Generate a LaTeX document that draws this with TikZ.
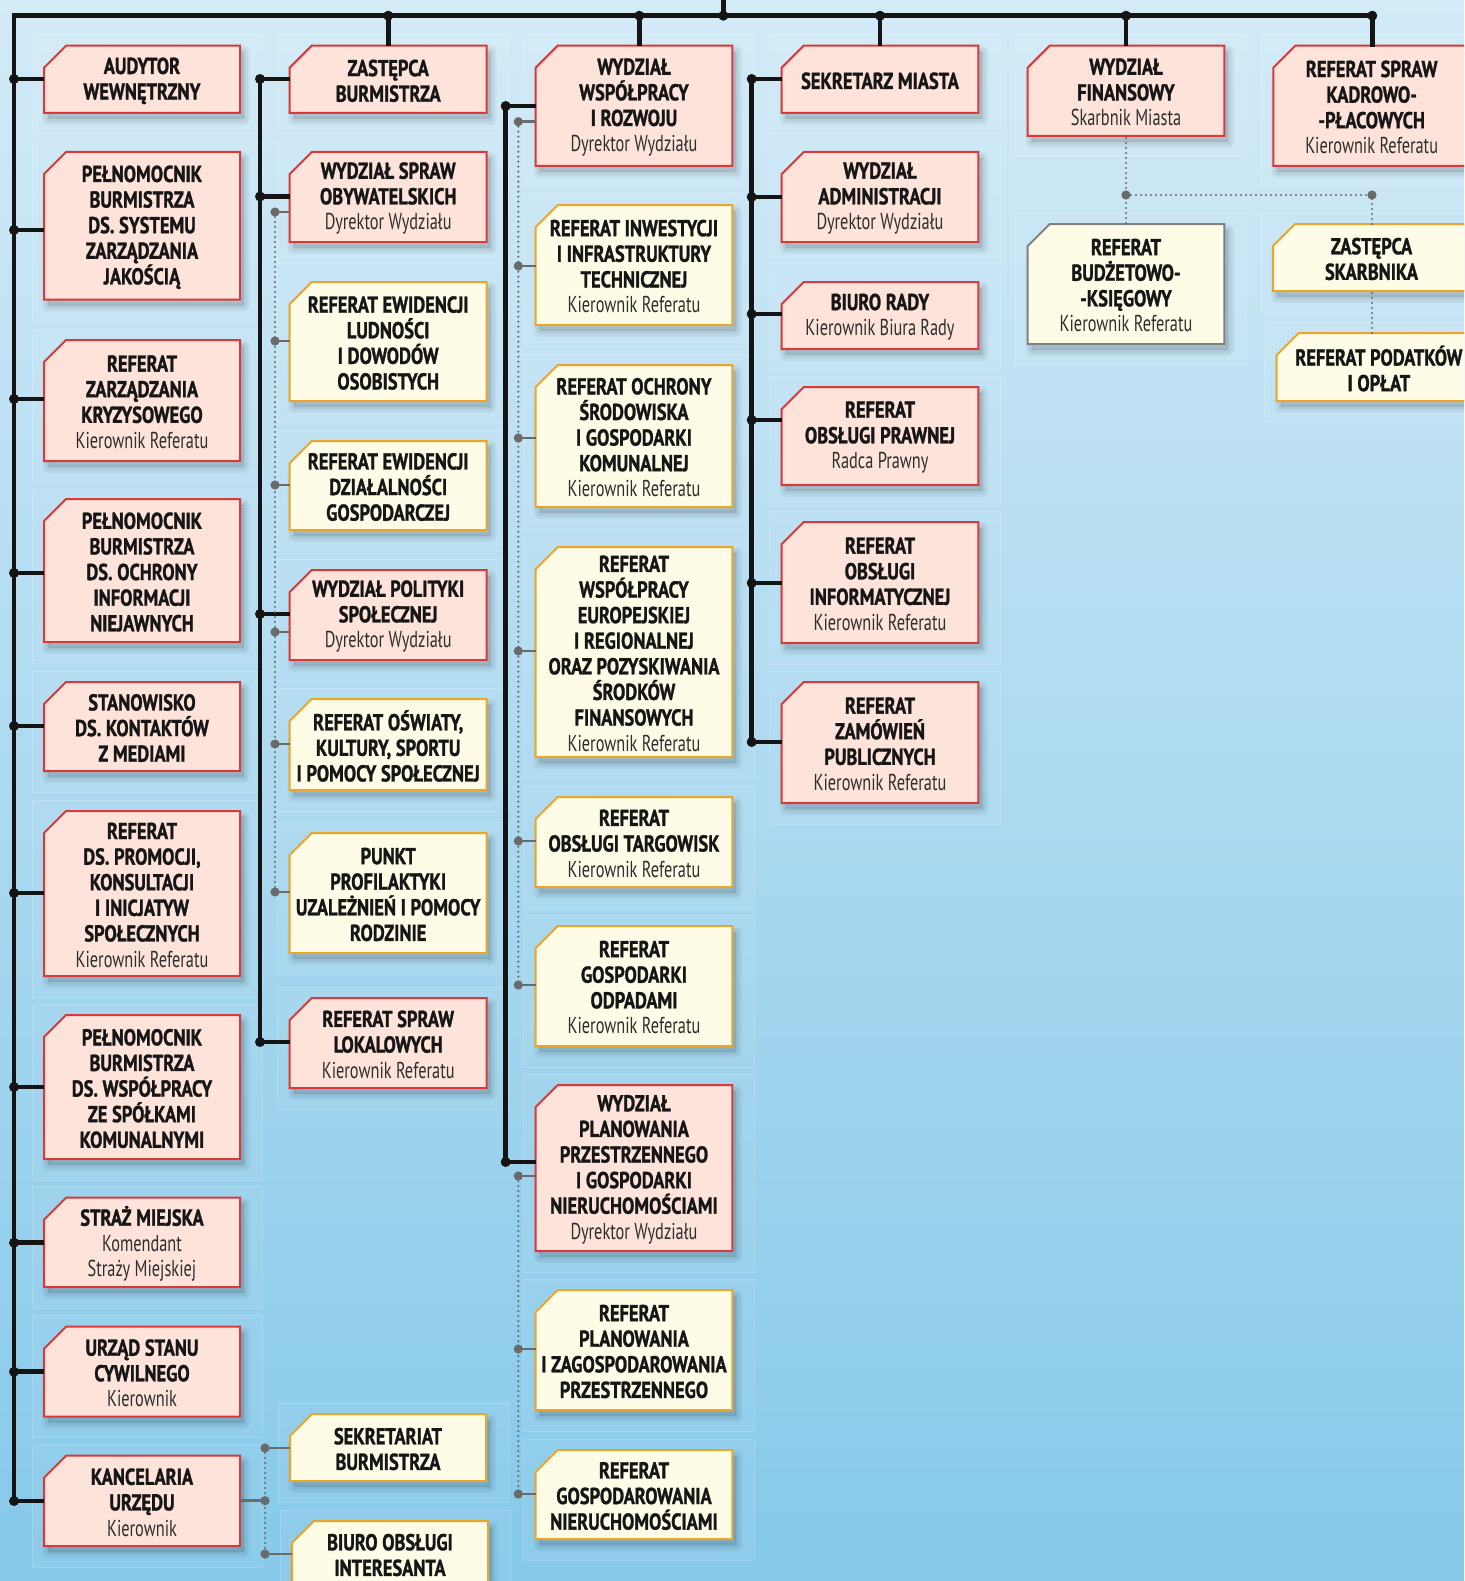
\documentclass[tikz,border=0pt]{standalone}
\usepackage{fontspec}
\setmainfont{PT Sans}[UprightFeatures={FakeStretch=0.71}, BoldFeatures={FakeStretch=0.8, FakeBold=1.2}]
\definecolor{bgtop}{HTML}{D3EAF7}
\definecolor{bgbot}{HTML}{86C9E9}
\definecolor{pinkf}{HTML}{FDE3D9}
\definecolor{redb}{HTML}{D8393A}
\definecolor{yelf}{HTML}{FEFCE7}
\definecolor{orab}{HTML}{EBA52A}
\definecolor{grayb}{HTML}{808080}
\definecolor{linec}{HTML}{141414}
\definecolor{dotc}{HTML}{6A6A6A}
\definecolor{txtc}{HTML}{161616}
\definecolor{subc}{HTML}{2E2E2E}
\tikzset{
 pinkbox/.style={fill=pinkf, draw=redb, line width=2pt},
 yelbox/.style={fill=yelf, draw=orab, line width=2pt},
 graybox/.style={fill=yelf, draw=grayb, line width=2pt},
 txt/.style={inner sep=0pt, align=center, font=\fontsize{23}{25.6}\selectfont\bfseries, text=txtc},
 mainl/.style={draw=linec, line width=4.6pt},
 subl/.style={draw=dotc, line width=2.6pt},
 dotl/.style={draw=dotc, line width=2.4pt, dash pattern=on 0pt off 5pt, line cap=round},
 panel/.style={fill=white, fill opacity=0.05, draw=white, draw opacity=0.18, line width=1pt},
}
\newcommand\sub[1]{{\mdseries\color{subc}#1}}
% #1 name, #2 style, #3 x1, #4 y1, #5 x2, #6 y2, #7 text
\newcommand\ob[7]{%
  \path[panel] (#3-12,#4-11) rectangle (#5+22,#6+21);
  \foreach \w in {12,8,4}{%
    \path[fill=black, fill opacity=0.035, draw=black, draw opacity=0.035, line width=\w pt, line join=round]
      (#3+4,#6+6) -- (#3+4,#4+28) -- (#3+26,#4+6) -- (#5+4,#4+6) -- (#5+4,#6+6) -- cycle;}
  \path[#2] (#3,#6) -- (#3,#4+22) -- (#3+22,#4) -- (#5,#4) -- (#5,#6) -- cycle;
  \node[txt, minimum width={(#5-#3)*1pt}, minimum height={(#6-#4)*1pt}] (#1) at ({(#3+#5)/2},{(#4+#6)/2+1.5}) {#7};
}
\newcommand\jdot[1]{\fill[linec] (#1) circle (5pt);}
\newcommand\gdot[1]{\fill[dotc] (#1) circle (4.6pt);}
\begin{document}
\begin{tikzpicture}[x=1pt,y=-1pt]
\useasboundingbox (0,0) rectangle (1464,1581);
\clip (0,0) rectangle (1464,1581);
\shade[top color=bgtop, bottom color=bgbot] (0,0) rectangle (1464,1581);

% ---------- column 1
\ob{aud}{pinkbox}{44}{45.7}{240}{113}{AUDYTOR\\WEWNĘTRZNY}
\ob{pjak}{pinkbox}{44}{152}{240}{299.5}{PEŁNOMOCNIK\\BURMISTRZA\\DS. SYSTEMU\\ZARZĄDZANIA\\JAKOŚCIĄ}
\ob{rzk}{pinkbox}{44}{340}{240}{461}{REFERAT\\ZARZĄDZANIA\\KRYZYSOWEGO\\\sub{Kierownik Referatu}}
\ob{pnie}{pinkbox}{44}{499}{240}{642}{PEŁNOMOCNIK\\BURMISTRZA\\DS. OCHRONY\\INFORMACJI\\NIEJAWNYCH}
\ob{skm}{pinkbox}{44}{682}{240}{771}{STANOWISKO\\DS. KONTAKTÓW\\Z MEDIAMI}
\ob{rpro}{pinkbox}{44}{811}{240}{976}{REFERAT\\DS. PROMOCJI,\\KONSULTACJI\\I INICJATYW\\SPOŁECZNYCH\\\sub{Kierownik Referatu}}
\ob{pspo}{pinkbox}{44}{1015}{240}{1159}{PEŁNOMOCNIK\\BURMISTRZA\\DS. WSPÓŁPRACY\\ZE SPÓŁKAMI\\KOMUNALNYMI}
\ob{sm}{pinkbox}{44}{1197.7}{240}{1287}{STRAŻ MIEJSKA\\\sub{Komendant}\\\sub{Straży Miejskiej}}
\ob{usc}{pinkbox}{44}{1326.7}{240}{1416.7}{URZĄD STANU\\CYWILNEGO\\\sub{Kierownik}}
\ob{kanc}{pinkbox}{44}{1455.7}{240}{1546}{KANCELARIA\\URZĘDU\\\sub{Kierownik}}

% ---------- column 2
\ob{zast}{pinkbox}{289.7}{45.7}{486.7}{113}{ZASTĘPCA\\BURMISTRZA}
\ob{wso}{pinkbox}{289.7}{152}{486.7}{242}{WYDZIAŁ SPRAW\\OBYWATELSKICH\\\sub{Dyrektor Wydziału}}
\ob{rel}{yelbox}{289.7}{282}{486.7}{401}{REFERAT EWIDENCJI\\LUDNOŚCI\\I DOWODÓW\\OSOBISTYCH}
\ob{red}{yelbox}{289.7}{441}{486.7}{530}{REFERAT EWIDENCJI\\DZIAŁALNOŚCI\\GOSPODARCZEJ}
\ob{wps}{pinkbox}{289.7}{570}{486.7}{660}{WYDZIAŁ POLITYKI\\SPOŁECZNEJ\\\sub{Dyrektor Wydziału}}
\ob{ros}{yelbox}{289.7}{699}{486.7}{790}{REFERAT OŚWIATY,\\KULTURY, SPORTU\\I POMOCY SPOŁECZNEJ}
\ob{ppu}{yelbox}{289.7}{833}{486.7}{953}{PUNKT\\PROFILAKTYKI\\UZALEŻNIEŃ I POMOCY\\RODZINIE}
\ob{rsl}{pinkbox}{289.7}{998}{486.7}{1088}{REFERAT SPRAW\\LOKALOWYCH\\\sub{Kierownik Referatu}}
\ob{sekb}{yelbox}{290}{1414}{486}{1481}{SEKRETARIAT\\BURMISTRZA}
\ob{boi}{yelbox}{292}{1521}{488}{1586}{BIURO OBSŁUGI\\INTERESANTA}

% ---------- column 3
\ob{wwr}{pinkbox}{535.7}{45.7}{732.3}{166}{WYDZIAŁ\\WSPÓŁPRACY\\I ROZWOJU\\\sub{Dyrektor Wydziału}}
\ob{rii}{yelbox}{535.7}{205}{732.3}{325}{REFERAT INWESTYCJI\\I INFRASTRUKTURY\\TECHNICZNEJ\\\sub{Kierownik Referatu}}
\ob{roch}{yelbox}{535.7}{365}{732.3}{507}{REFERAT OCHRONY\\ŚRODOWISKA\\I GOSPODARKI\\KOMUNALNEJ\\\sub{Kierownik Referatu}}
\ob{rwe}{yelbox}{535.7}{547}{732.3}{757}{REFERAT\\WSPÓŁPRACY\\EUROPEJSKIEJ\\I REGIONALNEJ\\ORAZ POZYSKIWANIA\\ŚRODKÓW\\FINANSOWYCH\\\sub{Kierownik Referatu}}
\ob{rot}{yelbox}{535.7}{797}{732.3}{887}{REFERAT\\OBSŁUGI TARGOWISK\\\sub{Kierownik Referatu}}
\ob{rgo}{yelbox}{535.7}{926}{732.3}{1046}{REFERAT\\GOSPODARKI\\ODPADAMI\\\sub{Kierownik Referatu}}
\ob{wpp}{pinkbox}{535.7}{1085}{732.3}{1251}{WYDZIAŁ\\PLANOWANIA\\PRZESTRZENNEGO\\I GOSPODARKI\\NIERUCHOMOŚCIAMI\\\sub{Dyrektor Wydziału}}
\ob{rpz}{yelbox}{535.7}{1290}{732.3}{1410}{REFERAT\\PLANOWANIA\\I ZAGOSPODAROWANIA\\PRZESTRZENNEGO}
\ob{rgn}{yelbox}{535.7}{1450}{732.3}{1539}{REFERAT\\GOSPODAROWANIA\\NIERUCHOMOŚCIAMI}

% ---------- column 4
\ob{sekm}{pinkbox}{781.7}{45.7}{978.3}{113}{SEKRETARZ MIASTA}
\ob{wadm}{pinkbox}{781.7}{152}{978.3}{242}{WYDZIAŁ\\ADMINISTRACJI\\\sub{Dyrektor Wydziału}}
\ob{brady}{pinkbox}{781.7}{282}{978.3}{349}{BIURO RADY\\\sub{Kierownik Biura Rady}}
\ob{rop}{pinkbox}{781.7}{387}{978.3}{485}{REFERAT\\OBSŁUGI PRAWNEJ\\\sub{Radca Prawny}}
\ob{roi}{pinkbox}{781.7}{522}{978.3}{643}{REFERAT\\OBSŁUGI\\INFORMATYCZNEJ\\\sub{Kierownik Referatu}}
\ob{rzp}{pinkbox}{781.7}{682}{978.3}{803}{REFERAT\\ZAMÓWIEŃ\\PUBLICZNYCH\\\sub{Kierownik Referatu}}

% ---------- columns 5 and 6
\ob{wf}{pinkbox}{1027.7}{45.7}{1224.3}{136}{WYDZIAŁ\\FINANSOWY\\\sub{Skarbnik Miasta}}
\ob{rbk}{graybox}{1027.7}{224}{1224.3}{344}{REFERAT\\BUDŻETOWO-\\-KSIĘGOWY\\\sub{Kierownik Referatu}}
\ob{kadr}{pinkbox}{1273.3}{45.7}{1470}{166}{REFERAT SPRAW\\KADROWO-\\-PŁACOWYCH\\\sub{Kierownik Referatu}}
\ob{zsk}{yelbox}{1273}{224}{1470}{291}{ZASTĘPCA\\SKARBNIKA}
\ob{rpo}{yelbox}{1276.7}{333}{1481}{401}{REFERAT PODATKÓW\\I OPŁAT}

% ---------- main black structure
\coordinate (root) at (723.3,-5);
\coordinate (tl) at (14,15.7);
\coordinate (tr) at (1372.3,15.7);
\coordinate (t3) at (639.3,15.7);
\coordinate (c1end) at (14,1501);
\draw[mainl, line join=miter] (c1end) -- (tl) -- (tr) -- (tr |- kadr.north);
\draw[mainl] (root) -- (root |- tl);
\draw[mainl] (zast.north |- tl) -- (zast.north |- 0,45.7);
\draw[mainl] (t3) -- (t3 |- 0,45.7);
\draw[mainl] (sekm.north |- tl) -- (sekm.north |- 0,45.7);
\draw[mainl] (wf.north |- tl) -- (wf.north |- 0,45.7);
\foreach \p in {zast.north |- tl, t3, root |- tl, sekm.north |- tl, wf.north |- tl, tr}{\fill[linec] (\p) circle (5pt);}

% column 1 connectors
\foreach \b/\y in {aud/79, pjak/230, rzk/399, pnie/573, skm/726, rpro/893, pspo/1087, sm/1242.7, usc/1371.7, kanc/1501}{
  \coordinate (j1\b) at (14,\y);
  \draw[mainl] (j1\b) -- (j1\b -| \b.west);
  \jdot{j1\b}
}
% column 2
\coordinate (c2top) at (260,79);
\coordinate (c2bot) at (260,1042);
\draw[mainl] (c2top) -- (c2bot);
\foreach \b/\y in {zast/79, wso/196.5, wps/614, rsl/1042}{
  \coordinate (j2\b) at (260,\y);
  \draw[mainl] (j2\b) -- (j2\b -| \b.west);
  \jdot{j2\b}
}
% column 3
\coordinate (c3top) at (505.7,106);
\coordinate (c3bot) at (505.7,1162);
\draw[mainl] (c3top) -- (c3bot);
\foreach \b/\y in {wwr/106, wpp/1162}{
  \coordinate (j3\b) at (505.7,\y);
  \draw[mainl] (j3\b) -- (j3\b -| \b.west);
  \jdot{j3\b}
}
% column 4
\coordinate (c4top) at (751.7,79);
\coordinate (c4bot) at (751.7,742);
\draw[mainl] (c4top) -- (c4bot);
\foreach \b/\y in {sekm/79, wadm/197, brady/314, rop/420, roi/583, rzp/742}{
  \coordinate (j4\b) at (751.7,\y);
  \draw[mainl] (j4\b) -- (j4\b -| \b.west);
  \jdot{j4\b}
}

% ---------- gray dotted structure
\coordinate (d2top) at (275,212);
\coordinate (d2bot) at (275,892);
\draw[dotl] (d2top) -- (d2bot);
\foreach \b/\y in {wso/212, rel/341, red/485, wps/632, ros/744, ppu/892}{
  \coordinate (g2\b) at (275,\y);
  \draw[subl] (g2\b) -- (g2\b -| \b.west);
  \gdot{g2\b}
}
\coordinate (d2sek) at (265,1448);
\coordinate (d2kan) at (265,1500.7);
\coordinate (d2boi) at (265,1554);
\draw[dotl] (d2sek) -- (d2boi);
\draw[subl] (d2sek) -- (d2sek -| sekb.west);
\draw[subl] (d2boi) -- (d2boi -| boi.west);
\draw[subl] (d2kan -| kanc.east) -- (d2kan);
\gdot{d2sek}\gdot{d2kan}\gdot{d2boi}
\coordinate (d3a) at (518.3,121.7);
\coordinate (d3b) at (518.3,985);
\coordinate (d3c) at (518.3,1176);
\coordinate (d3d) at (518.3,1494);
\draw[dotl] (d3a) -- (d3b);
\draw[dotl] (d3c) -- (d3d);
\foreach \b/\y in {wwr/121.7, rii/266, roch/438, rwe/651, rot/841, rgo/985, wpp/1176, rpz/1349, rgn/1494}{
  \coordinate (g3\b) at (518.3,\y);
  \draw[subl] (g3\b) -- (g3\b -| \b.west);
  \gdot{g3\b}
}
\coordinate (fj1) at (1126,195);
\coordinate (fj2) at (1372,195);
\draw[dotl] (wf.south |- 0,138) -- (fj1) -- (rbk.north |- 0,224);
\draw[dotl] (fj1) -- (fj2) -- (fj2 |- 0,224);
\draw[dotl] (fj2 |- 0,293) -- (fj2 |- 0,333);
\gdot{fj1}\gdot{fj2}
\end{tikzpicture}
\end{document}
